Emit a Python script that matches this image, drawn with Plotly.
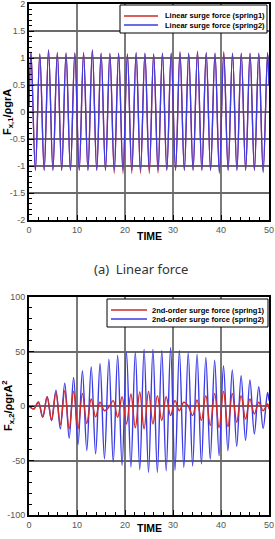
import plotly.graph_objects as go

# ---------------- data ----------------
# (a) linear surge force: extrema times / values
lin_t = [0.0, 0.42, 1.33, 2.25, 3.16, 4.07, 4.98, 5.90, 6.81, 7.72, 8.63, 9.55, 10.46,
         11.37, 12.28, 13.20, 14.11, 15.02, 15.93, 16.85, 17.76, 18.67, 19.58, 20.50,
         21.41, 22.32, 23.23, 24.15, 25.06, 25.97, 26.88, 27.80, 28.71, 29.62, 30.53,
         31.45, 32.36, 33.27, 34.18, 35.10, 36.01, 36.92, 37.83, 38.75, 39.66, 40.57,
         41.48, 42.40, 43.31, 44.22, 45.13, 46.05, 46.96, 47.87, 48.78, 49.70, 50.0]
lin_spring1 = [0.10, 1.11, -1.08, 1.08, -1.08, 1.15, -1.08, 1.11, -1.08, 1.10, -1.08, 1.10,
               -1.08, 1.11, -1.08, 1.15, -1.08, 1.09, -1.08, 1.09, -1.14, 1.09, -1.14, 1.08,
               -1.14, 1.10, -1.14, 1.09, -1.14, 1.08, -1.13, 1.09, -1.08, 1.09, -1.08,
               1.12, -1.08, 1.09, -1.08, 1.13, -1.08, 1.10, -1.08, 1.09, -1.10, 1.12,
               -1.08, 1.09, -1.08, 1.09, -1.08, 1.09, -1.08, 1.09, -1.10, 1.10, 0.50]
lin_spring2 = [0.10, 1.10, -1.08, 1.07, -1.08, 1.15, -1.08, 1.09, -1.08, 1.09, -1.08, 1.09,
               -1.08, 1.09, -1.08, 1.15, -1.08, 1.09, -1.08, 1.08, -1.08, 1.09, -1.08, 1.07,
               -1.08, 1.10, -1.08, 1.09, -1.08, 1.07, -1.08, 1.09, -1.08, 1.09, -1.08,
               1.10, -1.08, 1.09, -1.08, 1.11, -1.08, 1.10, -1.08, 1.09, -1.14, 1.09,
               -1.08, 1.09, -1.08, 1.09, -1.08, 1.09, -1.08, 1.09, -1.12, 1.10, 0.50]

# (b) 2nd-order surge force
so_t = [0.0, 1.02, 1.94, 2.86, 3.78, 4.70, 5.61, 6.53, 7.45, 8.37, 9.29, 10.21, 11.13,
        12.04, 12.96, 13.88, 14.80, 15.72, 16.64, 17.55, 18.47, 19.39, 20.31, 21.23,
        22.15, 23.07, 23.98, 24.90, 25.82, 26.74, 27.66, 28.58, 29.50, 30.41, 31.33,
        32.25, 33.17, 34.09, 35.01, 35.92, 36.84, 37.76, 38.68, 39.60, 40.52, 41.44,
        42.35, 43.27, 44.19, 45.11, 46.03, 46.95, 47.86, 48.78, 49.70, 50.0]
so_spring1 = [0, -2.7, 3.7, -10, 8.5, -13, 12.5, -17, 14, -21, 13.4, -21, 11.6,
              -16, 6.4, -10, 3.4, -4.3, -1, 4.9, -10.4, 8.5, -16.5, 11,
              -20, 13, -21, 13.4, -16.5, 9.5, -13.4, 8.5, -8.8, 4.9, -4.3,
              3.4, 0, -8.8, 5.5, -13.4, 9.5, -18, 11.6, -20, 13.4, -19,
              11.6, -15, 9.5, -12, 6.4, -7.3, 3.4, -4.3, 2, -3]
so_spring2 = [0, -2.7, 3.7, -10.4, 8.5, -13.4, 14.6, -21, 21, -29.6, 26.2, -35.4, 32.3,
              -40.9, 36, -43.9, 39, -48.5, 43, -51.5, 46.6, -54.6, 49.7, -56,
              49.7, -58.5, 52, -61, 52, -61, 51, -59.5, 53.7, -59, 51,
              -56.5, 49, -55, 47.6, -53, 44.5, -49, 42, -45.5, 36.9, -41,
              33, -37, 27.7, -31.5, 23.8, -25.7, 17.7, -20.5, 12.5, 5]

x_ticks = [0, 10, 20, 30, 40, 50]
y1_ticks = [-2, -1.5, -1, -0.5, 0, 0.5, 1, 1.5, 2]
y1_labels = ["-2", "-1.5", "-1", "-0.5", "0", "0.5", "1", "1.5", "2"]
y2_ticks = [-100, -50, 0, 50, 100]
y2_labels = ["-100", "-50", "0", "50", "100"]

legend1 = ["Linear surge force (spring1)", "Linear surge force (spring2)"]
legend2 = ["2nd-order surge force (spring1)", "2nd-order surge force (spring2)"]

RED = "#d02a2a"
BLUE = "#3c3ce6"

# ---------------- layout helpers ----------------
W, H = 275, 539
def fx(p):
    return p / W
def fy(p):
    return 1 - p / H

fig = go.Figure()

# top: red first, blue on top
fig.add_trace(go.Scatter(x=lin_t, y=lin_spring1, mode="lines", xaxis="x", yaxis="y",
                         line=dict(color=RED, width=1.3, shape="spline", smoothing=1.0),
                         showlegend=False))
fig.add_trace(go.Scatter(x=lin_t, y=lin_spring2, mode="lines", xaxis="x", yaxis="y",
                         line=dict(color=BLUE, width=1.3, shape="spline", smoothing=1.0),
                         showlegend=False))
# bottom: blue first, red on top
fig.add_trace(go.Scatter(x=so_t, y=so_spring2, mode="lines", xaxis="x2", yaxis="y2",
                         line=dict(color=BLUE, width=1.4, shape="spline", smoothing=1.0),
                         showlegend=False))
fig.add_trace(go.Scatter(x=so_t, y=so_spring1, mode="lines", xaxis="x2", yaxis="y2",
                         line=dict(color=RED, width=1.4, shape="spline", smoothing=1.0),
                         showlegend=False))

tickfont = dict(family="Liberation Sans, Arial", size=9, color="#555555")
common_x = dict(range=[0, 50], tickvals=x_ticks, ticktext=[str(v) for v in x_ticks],
                ticks="inside", ticklen=5, tickwidth=1, tickcolor="black",
                minor=dict(ticks="inside", dtick=2, ticklen=3, tickcolor="black", showgrid=False),
                showgrid=True, gridcolor="#7a7a7a", gridwidth=1.5,
                showline=True, linecolor="black", linewidth=2, mirror=True,
                zeroline=False, tickfont=tickfont, automargin=False,
                ticklabeloverflow="allow")
common_y = dict(ticks="inside", ticklen=5, tickwidth=1, tickcolor="black",
                showgrid=True, gridcolor="#6a6a6a", gridwidth=1.5,
                showline=True, linecolor="black", linewidth=2, mirror=True,
                zeroline=False, tickfont=tickfont, automargin=False,
                ticklabeloverflow="allow")

x_dom = [fx(29), fx(269)]
fig.update_layout(
    width=W, height=H, autosize=False,
    margin=dict(l=0, r=0, t=0, b=0),
    paper_bgcolor="white", plot_bgcolor="white",
    xaxis=dict(domain=x_dom, anchor="y", **common_x),
    yaxis=dict(domain=[fy(220), fy(4)], anchor="x", range=[-2, 2],
               tickvals=y1_ticks, ticktext=y1_labels,
               minor=dict(ticks="inside", dtick=0.1, ticklen=3, tickcolor="black", showgrid=False),
               **common_y),
    xaxis2=dict(domain=x_dom, anchor="y2", **common_x),
    yaxis2=dict(domain=[fy(515), fy(297)], anchor="x2", range=[-100, 100],
                tickvals=y2_ticks, ticktext=y2_labels,
                minor=dict(ticks="inside", dtick=10, ticklen=3, tickcolor="black", showgrid=False),
                **common_y),
)

bold = dict(family="Liberation Sans, Arial", color="black", weight="bold")
ann = []
def add_text(text, x, y, size, font=None, **kw):
    f = dict(size=size, **(font if font is not None else bold))
    ann.append(dict(text=text, x=fx(x), y=fy(y), xref="paper", yref="paper",
                    xanchor=kw.pop("xanchor", "center"), yanchor="middle",
                    showarrow=False, font=f, **kw))

# axis titles
add_text("TIME", 149, 236, 10.5)
add_text("TIME", 149, 528, 10.5)
add_text("F<sub>x,1</sub>/ρgrA", 8, 112, 11, textangle=-90)
add_text("F<sub>x,2</sub>/ρgrA<sup>2</sup>", 8, 406, 11, textangle=-90)
# caption
add_text("(a)  Linear force", 141, 269, 13,
         font=dict(family="Noto Sans", color="#333333"))

shapes = []
def legend(box, entries, colors, line_x, text_x, ys):
    shapes.append(dict(type="rect", xref="paper", yref="paper",
                       x0=fx(box[0]), x1=fx(box[1]), y0=fy(box[3]), y1=fy(box[2]),
                       line=dict(color="black", width=1), fillcolor="white", layer="above"))
    for name, col, yy in zip(entries, colors, ys):
        shapes.append(dict(type="line", xref="paper", yref="paper",
                           x0=fx(line_x[0]), x1=fx(line_x[1]), y0=fy(yy), y1=fy(yy),
                           line=dict(color=col, width=1.3), layer="above"))
        add_text(name, text_x, yy, 7.5, xanchor="left")

legend((120, 267, 5, 33), legend1, [RED, BLUE], (124, 158), 163, [16, 25])
legend((107, 268, 299, 327), legend2, [RED, BLUE], (111, 147), 150, [310, 319])

fig.update_layout(annotations=ann, shapes=shapes)
fig.write_html("out.html")
